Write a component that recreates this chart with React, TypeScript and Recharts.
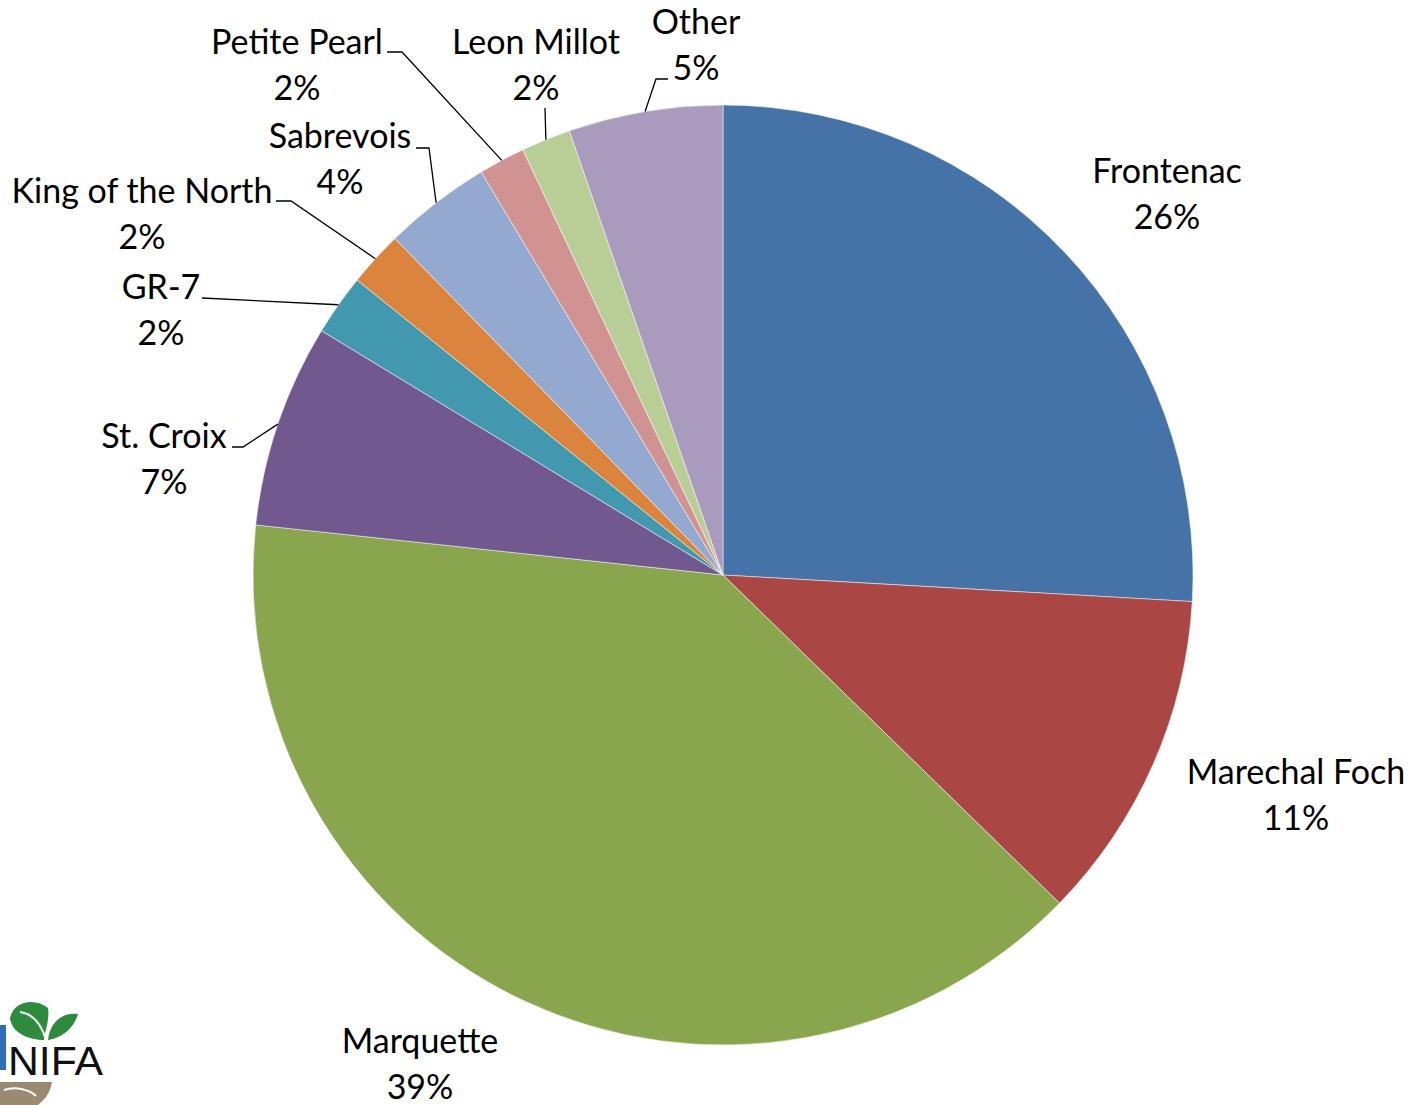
import React from "react";
import { PieChart, Pie, Cell } from "recharts";

const varieties = [
  "Frontenac",
  "Marechal Foch",
  "Marquette",
  "St. Croix",
  "GR-7",
  "King of the North",
  "Sabrevois",
  "Petite Pearl",
  "Leon Millot",
  "Other",
];
const shares = [25.9, 11.4, 39.4, 7.0, 2.1, 1.9, 3.7, 1.6, 1.7, 5.3];
const colors = [
  "#4572A7",
  "#AA4643",
  "#89A54E",
  "#71588F",
  "#4198AF",
  "#DB843D",
  "#93A9CF",
  "#D19392",
  "#B9CD96",
  "#A99BBD",
];

const data = varieties.map((name, i) => ({ name, value: shares[i] }));

// label layout: block centre offset from pie centre, optional leader elbow/end offsets
const CX = 723;
const CY = 575;
const R = 470;
const labelLayout: { dx: number; dy: number; elbow?: [number, number]; end?: [number, number] }[] = [
  { dx: 444, dy: -383 },
  { dx: 573, dy: 218 },
  { dx: -303, dy: 487 },
  { dx: -559, dy: -118, elbow: [-480, -128], end: [-491, -128] },
  { dx: -562, dy: -267, elbow: [-521, -277], end: [-521, -277] },
  { dx: -581, dy: -363, elbow: [-432, -374], end: [-447, -374] },
  { dx: -383, dy: -418, elbow: [-294, -427], end: [-307, -427] },
  { dx: -426, dy: -512, elbow: [-321, -523], end: [-336, -523] },
  { dx: -187, dy: -512, elbow: [-178, -467], end: [-178, -467] },
  { dx: -27, dy: -532, elbow: [-67, -496], end: [-55, -496] },
];

const FONT = "Lato, 'Open Sans', sans-serif";
const FS = 34;
const LINE = 46;

const RAD = Math.PI / 180;

const renderLabel = (props: any) => {
  const { cx, cy, midAngle, outerRadius, index, percent, name } = props;
  const lay = labelLayout[index];
  const lx = cx + lay.dx;
  const ly = cy + lay.dy;
  const px = cx + outerRadius * Math.cos(-midAngle * RAD);
  const py = cy + outerRadius * Math.sin(-midAngle * RAD);
  const pct = Math.round(percent * 100) + "%";
  return (
    <g key={"lbl" + index}>
      {lay.elbow && lay.end && (
        <polyline
          points={`${px},${py} ${cx + lay.elbow[0]},${cy + lay.elbow[1]} ${cx + lay.end[0]},${cy + lay.end[1]}`}
          fill="none"
          stroke="#000"
          strokeWidth={1.3}
        />
      )}
      <text
        x={lx}
        y={ly - LINE / 2}
        textAnchor="middle"
        dominantBaseline="central"
        fontFamily={FONT}
        fontSize={FS}
        fill="#000"
      >
        {name}
      </text>
      <text
        x={lx}
        y={ly + LINE / 2}
        textAnchor="middle"
        dominantBaseline="central"
        fontFamily={FONT}
        fontSize={FS}
        fill="#000"
      >
        {pct}
      </text>
    </g>
  );
};

const Logo = () => (
  <svg
    width={120}
    height={110}
    style={{ position: "absolute", left: 0, top: 995 }}
    viewBox="0 995 120 110"
  >
    <rect x={0} y={1025} width={6} height={45} fill="#2f6db5" />
    <path d="M10 1018 C 14 1000, 36 998, 48 1008 C 50 1020, 44 1034, 44 1040 C 30 1040, 12 1034, 10 1018 Z" fill="#2e8b3e" />
    <path d="M48 1040 C 50 1022, 62 1012, 78 1014 C 74 1028, 62 1038, 48 1040 Z" fill="#2e8b3e" />
    <path d="M20 1012 C 34 1014, 42 1026, 46 1040" stroke="#fff" strokeWidth={2} fill="none" />
    <text x={8} y={1075} fontFamily="'Liberation Sans Narrow', 'Liberation Sans', sans-serif" fontSize={40} fill="#111" textLength={95} lengthAdjust="spacingAndGlyphs">
      NIFA
    </text>
    <path d="M0 1082 L52 1082 C 50 1094, 44 1100, 38 1105 L0 1105 Z" fill="#9a8a72" />
    <path d="M4 1090 C 16 1086, 30 1090, 36 1096" stroke="#fff" strokeWidth={2} fill="none" />
  </svg>
);

export default function App() {
  return (
    <div style={{ position: "absolute", left: 0, top: 0, width: 1416, height: 1105, background: "#fff" }}>
      <PieChart width={1416} height={1105} margin={{ top: 0, right: 0, bottom: 0, left: 0 }}>
        <Pie
          data={data}
          dataKey="value"
          nameKey="name"
          cx={CX}
          cy={CY}
          outerRadius={R}
          startAngle={90}
          endAngle={-270}
          stroke="#ffffff"
          strokeWidth={0.5}
          label={renderLabel}
          labelLine={false}
          isAnimationActive={false}
        >
          {data.map((d, i) => (
            <Cell key={d.name} fill={colors[i]} />
          ))}
        </Pie>
      </PieChart>
      <Logo />
    </div>
  );
}
